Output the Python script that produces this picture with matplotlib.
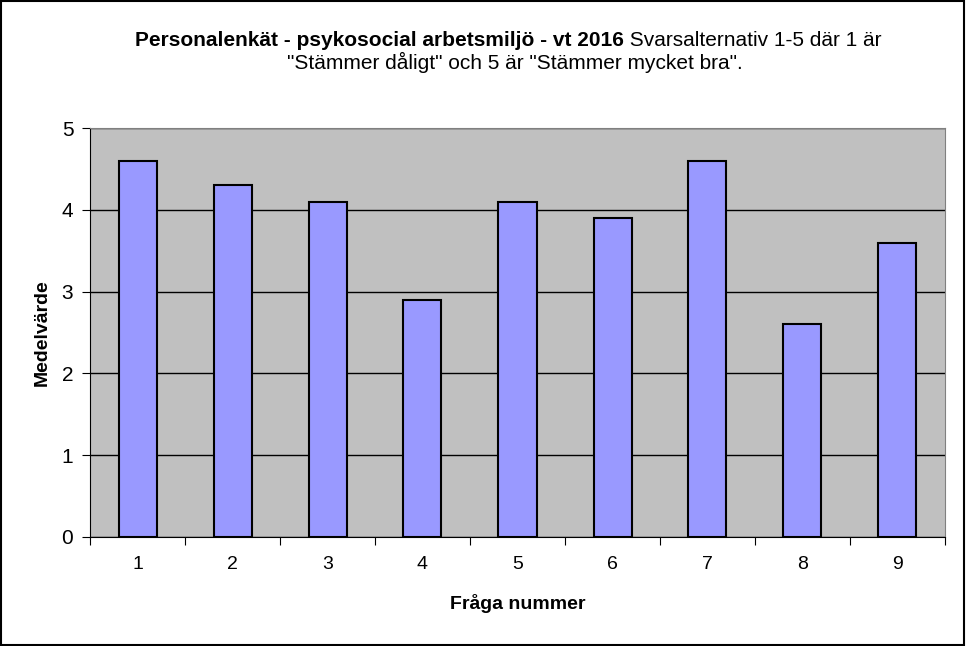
import matplotlib
matplotlib.use("Agg")
import matplotlib.pyplot as plt
import numpy as np

plt.rcParams['font.family'] = ['Liberation Sans', 'DejaVu Sans']

# Data
fragor = ['1', '2', '3', '4', '5', '6', '7', '8', '9']
medelvarde = [4.6, 4.3, 4.1, 2.9, 4.1, 3.9, 4.6, 2.6, 3.6]
yticks = [0, 1, 2, 3, 4, 5]

titel_fet = "Personalenkät - psykosocial arbetsmiljö - vt 2016"
titel_rad1 = " Svarsalternativ 1-5 där 1 är"
titel_rad2 = "\"Stämmer dåligt\" och 5 är \"Stämmer mycket bra\"."

fig = plt.figure(figsize=(9.66, 6.46), dpi=100)
W, H = 966, 646
ax = fig.add_axes([90 / W, 1 - 537 / H, (945 - 90) / W, (537 - 128) / H])

x = np.arange(len(fragor))
ax.bar(x, medelvarde, width=0.4, color='#9999ff', edgecolor='black', linewidth=1.5, zorder=3)

ax.set_facecolor('#c0c0c0')
ax.set_xlim(-0.5, len(fragor) - 0.5)
ax.set_ylim(0, 5)
ax.set_yticks(yticks)
ax.yaxis.grid(True, color='black', linewidth=1, zorder=1)
ax.set_axisbelow(True)

# ticks between categories on x axis
ax.set_xticks(np.arange(-0.5, len(fragor), 1))
ax.set_xticklabels([])
ax.set_xticks(x, minor=True)
ax.set_xticklabels(fragor, minor=True)
ax.tick_params(axis='x', which='major', length=6, direction='out', color='black')
ax.tick_params(axis='x', which='minor', length=0, labelsize=14, pad=14)
ax.tick_params(axis='y', length=6, direction='out', labelsize=15, pad=6)

for side in ['top', 'right']:
    ax.spines[side].set_color('#808080')
ax.spines['left'].set_color('black')
ax.spines['bottom'].set_color('black')

ax.set_xlabel('Fråga nummer', fontsize=14, fontweight='bold', labelpad=15)
ax.set_ylabel('Medelvärde', fontsize=14, fontweight='bold', labelpad=8)

# Title with mixed weights
cx = 508 / W
y1 = 1 - 40 / H
y2 = 1 - 62 / H
fs = 15
t1 = fig.text(0, y1, titel_fet, fontsize=fs, fontweight='bold', va='center')
t2 = fig.text(0, y1, titel_rad1, fontsize=fs, va='center')
fig.canvas.draw()
r = fig.canvas.get_renderer()
w1 = t1.get_window_extent(r).width / W
w2 = t2.get_window_extent(r).width / W
start = cx - (w1 + w2) / 2
t1.set_x(start)
t2.set_x(start + w1)
fig.text(515 / W, y2, titel_rad2, fontsize=fs, ha='center', va='center')

# outer frame
fig.patches.append(plt.Rectangle((0.001, 0.002), 0.997, 0.996, transform=fig.transFigure,
                                 fill=False, edgecolor='black', linewidth=1.5))

fig.savefig('out.png', dpi=100, facecolor='white')
